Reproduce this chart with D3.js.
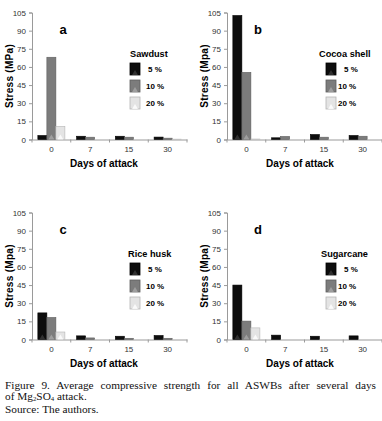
<!DOCTYPE html>
<html><head><meta charset="utf-8">
<script src="https://cdn.jsdelivr.net/npm/d3@7"></script>
<style>
body{margin:0;background:#fff;}
svg{display:block;}
</style></head>
<body>
<svg id="c" width="382" height="421"></svg>
<script>
// ---- data ----
const days = ["0", "7", "15", "30"];
const seriesNames = ["5 %", "10 %", "20 %"];
const yTicks = [0, 15, 30, 45, 60, 75, 90, 105];
const panelLetters = ["a", "b", "c", "d"];
const materials = ["Sawdust", "Cocoa shell", "Rice husk", "Sugarcane"];
const yTitles = ["Stress (MPa)", "Stress (Mpa)", "Stress (Mpa)", "Stress (Mpa)"];
// values[series][day]
const sawdust    = [[3.3, 2.7, 2.7, 2.0], [68, 1.9, 1.9, 1.1], [10.8, 0, 0, 0.3]];
const cocoaShell = [[102.5, 1.4, 4.1, 3.3], [55.5, 2.5, 1.9, 2.7], [0.4, 0, 0, 0]];
const riceHusk   = [[22, 3.0, 2.7, 3.3], [18.2, 1.3, 1.0, 1.0], [6.2, 0, 0, 0]];
const sugarcane  = [[45, 3.6, 2.7, 3.0], [15.2, 0, 0, 0], [9.6, 0, 0, 0]];
const panelData = [sawdust, cocoaShell, riceHusk, sugarcane];
const xTitle = "Days of attack";

// ---- style ----
const fills = ["#0d0d0d", "#7c7c7c", "#e4e4e4"];
const strokes = ["#000", "#5e5e5e", "#b5b5b5"];
const tri = ["#3a3a3a", "#a8a8a8", "#ffffff"];
const narrow = "'Liberation Sans Narrow','Arial Narrow','Liberation Sans',Arial,sans-serif";
const sans = "'Liberation Sans',Arial,sans-serif";

const svg = d3.select("#c");

const layout = [
  {ox: 0, oy: 0, titleX: 130, swX: 130, lab5: 148, lab10: 146},
  {ox: 195, oy: 0, titleX: 124, swX: 131, lab5: 149, lab10: 143},
  {ox: 0, oy: 200, titleX: 128, swX: 130, lab5: 148, lab10: 146},
  {ox: 195, oy: 200, titleX: 126, swX: 131, lab5: 149, lab10: 143}
];

panelData.forEach((data, pi) => {
  const L = layout[pi];
  const g = svg.append("g").attr("transform", `translate(${L.ox},${L.oy})`);
  const x0 = d3.scaleBand().domain(days).range([32, 187]).padding(0);
  const x1 = d3.scaleBand().domain(seriesNames).range([0, x0.bandwidth()]).paddingInner(0).paddingOuter(0.65);
  const y = d3.scaleLinear().domain([0, 105]).range([139.5, 12.5]);

  // y axis
  const ya = g.append("g").attr("transform", "translate(32,0)")
    .call(d3.axisLeft(y).tickValues(yTicks).tickSize(3).tickPadding(3));
  ya.select(".domain").attr("stroke", "#9a9a9a");
  ya.selectAll(".tick line").attr("stroke", "#9a9a9a");
  ya.selectAll(".tick text").attr("fill", "#333").attr("font-family", narrow).attr("font-size", 8);

  // x axis
  const xa = g.append("g").attr("transform", `translate(0,${y(0)})`)
    .call(d3.axisBottom(x0).tickSize(0).tickPadding(7));
  xa.select(".domain").attr("stroke", "#9a9a9a");
  xa.selectAll(".tick text").attr("fill", "#333").attr("font-family", narrow).attr("font-size", 8);
  const bounds = days.map(d => x0(d)).concat([x0.range()[1]]);
  g.append("g").selectAll("line").data(bounds).join("line")
    .attr("x1", d => d).attr("x2", d => d)
    .attr("y1", y(0)).attr("y2", y(0) + 3)
    .attr("stroke", "#9a9a9a");

  // bars
  seriesNames.forEach((s, si) => {
    const grp = g.append("g");
    days.forEach((d, di) => {
      const v = data[si][di];
      if (v <= 0) return;
      const bx = x0(d) + x1(s), bw = x1.bandwidth();
      const top = y(v), h = y(0) - top;
      grp.append("rect").attr("x", bx).attr("y", top).attr("width", bw).attr("height", h)
        .attr("fill", fills[si]).attr("stroke", strokes[si]).attr("stroke-width", 0.6);
      const th = Math.min(h * 0.8, 5);
      if (h > 6) {
        grp.append("path")
          .attr("d", `M${bx + 1.5},${y(0)} L${bx + bw / 2},${y(0) - th} L${bx + bw - 1.5},${y(0)} Z`)
          .attr("fill", tri[si]).attr("opacity", 0.8);
      }
    });
  });

  // panel letter
  g.append("text").attr("x", 63).attr("y", 34).attr("text-anchor", "middle")
    .attr("font-family", sans).attr("font-weight", "bold").attr("font-size", 13)
    .text(panelLetters[pi]);

  // y title
  g.append("text").attr("transform", `translate(13,76) rotate(-90)`)
    .attr("text-anchor", "middle").attr("font-family", sans).attr("font-weight", "bold")
    .attr("font-size", 10).attr("letter-spacing", 0.3).text(yTitles[pi]);

  // x title
  g.append("text").attr("x", pi % 2 === 0 ? 104 : 105).attr("y", 167).attr("text-anchor", "middle")
    .attr("font-family", sans).attr("font-weight", "bold").attr("font-size", 10)
    .text(xTitle);

  // legend
  const lg = g.append("g");
  lg.append("text").attr("x", L.titleX).attr("y", 56.5).attr("font-family", sans)
    .attr("font-weight", "bold").attr("font-size", 9.2).text(materials[pi]);
  seriesNames.forEach((s, si) => {
    const sy = 63 + si * 17;
    const sx = L.swX;
    lg.append("rect").attr("x", sx).attr("y", sy).attr("width", 10).attr("height", 12)
      .attr("fill", fills[si]).attr("stroke", strokes[si]).attr("stroke-width", 0.8);
    lg.append("path").attr("d", `M${sx + 2},${sy + 12} L${sx + 5},${sy + 7} L${sx + 8},${sy + 12} Z`)
      .attr("fill", tri[si]).attr("opacity", 0.8);
    lg.append("text").attr("x", si === 0 ? L.lab5 : L.lab10).attr("y", sy + 9)
      .attr("font-family", sans).attr("font-weight", "bold").attr("font-size", 8).text(s);
  });
});

// caption
const serif = "'Liberation Serif','Times New Roman',serif";
const cap = svg.append("g").attr("font-family", serif).attr("font-size", 11.3).attr("fill", "#111");
const l1 = cap.append("text").attr("x", 5).attr("y", 388.5)
  .text("Figure 9. Average compressive strength for all ASWBs after several days");
const w = l1.node().getComputedTextLength();
const nSpaces = l1.text().split(" ").length - 1;
l1.attr("word-spacing", Math.max(0, (371 - w) / nSpaces));
// line 2 with subscripts, laid out piece by piece
const parts = [["of Mg", false], ["2", true], ["SO", false], ["4", true], [" attack.", false]];
let cx = 5;
parts.forEach(([t, sub]) => {
  const el = cap.append("text").attr("x", cx).attr("y", sub ? 400.5 : 400)
    .attr("font-size", sub ? 6.8 : 11.3).attr("xml:space", "preserve").style("white-space", "pre").text(t);
  cx += el.node().getComputedTextLength();
});
cap.append("text").attr("x", 5).attr("y", 412.5).text("Source: The authors.");
</script>
</body></html>
